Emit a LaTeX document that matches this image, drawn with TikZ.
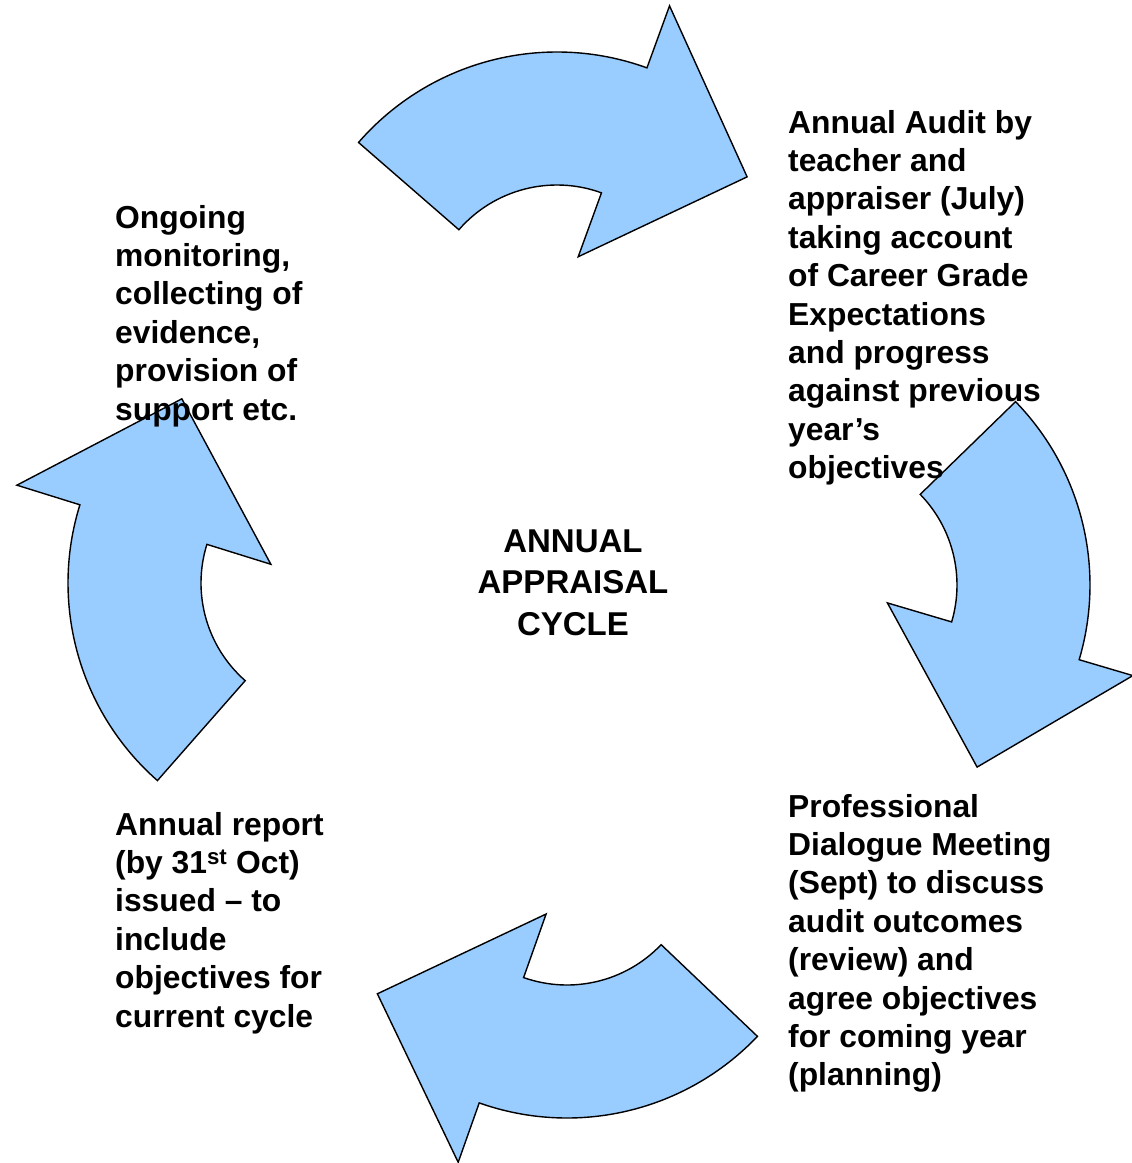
\documentclass[tikz,border=0pt]{standalone}
\usepackage{fontspec}
\setmainfont{Liberation Sans}
\usetikzlibrary{calc}
\definecolor{arrowblue}{HTML}{99CCFF}
\tikzset{
  cyclearrow/.style={fill=arrowblue, draw=black, line width=1.4pt, line join=miter},
  blocktext/.style={inner sep=0pt, align=left, anchor=base west, font=\bfseries\fontsize{31.8}{38.4}\selectfont},
  centretext/.style={inner sep=0pt, align=center, anchor=base, font=\bfseries\fontsize{33}{41.5}\selectfont}
}
% #1 centre, #2 start angle, #3 end angle, #4 tip angle, #5 head outer r, #6 head inner r, #7 tip r
\newcommand\cyclearrowshape[7]{%
  \begin{scope}[shift={#1}]
    \draw[cyclearrow] (#2:263) arc[start angle=#2, end angle=#3, radius=263]
      -- (#3:#5) -- (#4:#7) -- (#3:#6) -- (#3:130)
      arc[start angle=#3, end angle=#2, radius=130] -- cycle;
  \end{scope}}
\begin{document}
\begin{tikzpicture}[x=1pt,y=1pt]
\useasboundingbox (0,0) rectangle (1132,-1163);
\cyclearrowshape{(557,-315)}{139}{70}{36}{329}{62}{235}
\cyclearrowshape{(827,-585)}{44.2}{-16.5}{-50.5}{319}{63}{236}
\cyclearrowshape{(567,-855)}{-43.6}{-109.5}{-143.8}{326}{62.6}{235}
\cyclearrowshape{(331,-583)}{228.7}{162.7}{129}{329}{63}{237}

% anchor "base" is the baseline of the last line
\node[blocktext] (audit) at (788,-478.6) {Annual Audit by\\teacher and\\appraiser (July)\\taking account\\of Career Grade\\Expectations\\and progress\\against previous\\year’s\\objectives};
\node[blocktext] (monitor) at (115,-420) {Ongoing\\monitoring,\\collecting of\\evidence,\\provision of\\support etc.};
\node[centretext] (cycle) at (573,-635) {ANNUAL\\APPRAISAL\\CYCLE};
\node[blocktext] (dialogue) at (788,-1085.8) {Professional\\Dialogue Meeting\\(Sept) to discuss\\audit outcomes\\(review) and\\agree objectives\\for coming year\\(planning)};
\node[blocktext] (report) at (115,-1027) {Annual report\\(by 31\textsuperscript{st} Oct)\\issued – to\\include\\objectives for\\current cycle};
\end{tikzpicture}
\end{document}
